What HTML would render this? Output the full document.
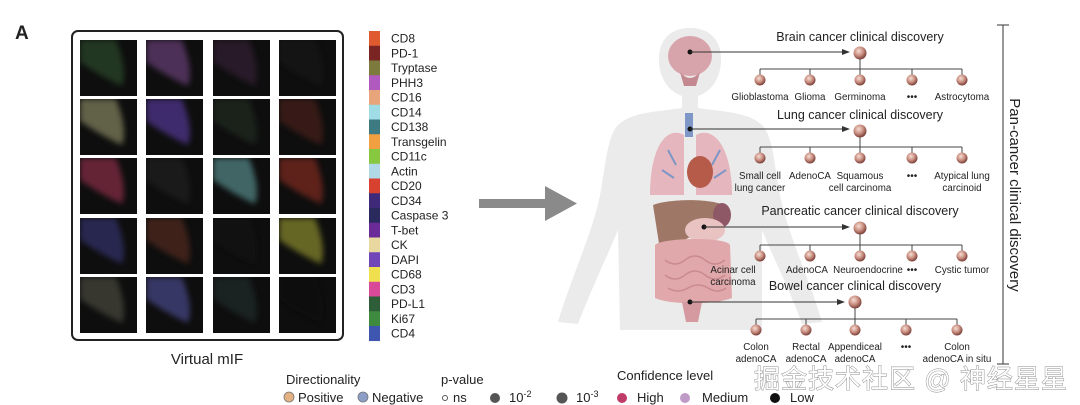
<!DOCTYPE html>
<html><head><meta charset="utf-8"><style>
html,body{margin:0;padding:0;background:#fff;width:1080px;height:405px;overflow:hidden}
svg text{font-family:"Liberation Sans","Noto Sans CJK SC",sans-serif;fill:#222}
</style></head><body>
<svg width="1080" height="405" viewBox="0 0 1080 405" xmlns="http://www.w3.org/2000/svg">
<defs>
<radialGradient id="ng" cx="0.4" cy="0.35" r="0.65"><stop offset="0" stop-color="#f6ddd4"/><stop offset="0.55" stop-color="#c98e80"/><stop offset="1" stop-color="#7a3f38"/></radialGradient>
<filter id="bl"><feGaussianBlur stdDeviation="3"/></filter>
</defs>
<text x="15" y="39" font-size="19" font-weight="bold">A</text>
<rect x="72" y="31" width="271" height="309" rx="6" fill="#fff" stroke="#222" stroke-width="2"/>
<g id="tiles"></g>
<text x="207" y="364" font-size="15" text-anchor="middle">Virtual mIF</text>
<g id="legend"></g>
<g>
<rect x="479" y="199" width="70" height="9" fill="#8a8a8a"/>
<polygon points="545,186 577,203.5 545,221" fill="#8a8a8a"/>
</g>
<g id="body">
<path d="M690,28 C666,28 658,45 659,62 C660,80 670,92 682,96 L682,108 C655,112 632,112 618,125 C608,135 606,160 601,190 C594,230 572,275 558,322 L578,324 C593,285 610,250 618,230 L620,330 L762,330 L762,230 C772,255 790,290 802,324 L822,322 C808,275 786,230 779,190 C774,160 772,135 762,125 C748,112 725,112 698,108 L698,96 C710,92 720,80 721,62 C722,45 714,28 690,28Z" fill="#ebebeb"/>
<ellipse cx="690" cy="56" rx="22" ry="20" fill="#d8a4ab"/>
<path d="M680,72 Q690,84 700,72 L696,86 L684,86Z" fill="#c48890"/>
<rect x="685" y="113" width="8" height="24" fill="#7e97c6"/>
<path d="M684,135 C665,125 650,150 650,195 L684,195Z" fill="#e5b6bd"/>
<path d="M696,135 C715,125 732,150 732,195 L696,195Z" fill="#e5b6bd"/>
<path d="M668,150 l8,15 M662,170 l12,8 M720,150 l-8,15 M726,170 l-12,8" stroke="#7e97c6" stroke-width="2" fill="none"/>
<ellipse cx="700" cy="172" rx="13" ry="16" fill="#b65a4a"/>
<path d="M653,205 C670,198 720,198 728,208 L722,228 C700,228 690,240 660,250 Z" fill="#9f7766"/>
<ellipse cx="722" cy="215" rx="9" ry="12" fill="#8e5866"/>
<ellipse cx="705" cy="230" rx="20" ry="12" fill="#e9c2c2"/>
<path d="M655,245 C660,238 725,236 730,245 L732,298 C715,305 670,305 655,298Z" fill="#e0a8ab"/>
<path d="M665,260 q10,8 20,0 q10,-8 20,0 q10,8 20,0 M665,275 q10,8 20,0 q10,-8 20,0 q10,8 20,0 M668,288 q10,6 20,0 q10,-6 20,0 q10,6 18,0" stroke="#c98a90" stroke-width="1.5" fill="none"/>
<path d="M682,302 L702,302 L698,322 L686,322Z" fill="#d49a9f"/>
</g>
<g id="tree"></g>
<line x1="1003" y1="25" x2="1003" y2="364" stroke="#555" stroke-width="1.2"/>
<line x1="997" y1="25" x2="1009" y2="25" stroke="#555" stroke-width="1.2"/>
<line x1="997" y1="364" x2="1009" y2="364" stroke="#555" stroke-width="1.2"/>
<text transform="translate(1010,195) rotate(90)" font-size="15" text-anchor="middle">Pan-cancer clinical discovery</text>
<g font-size="13">
<text x="286" y="384">Directionality</text>
<circle cx="289" cy="397" r="5" fill="#e4b182" stroke="#777" stroke-width="0.8"/>
<text x="298" y="402">Positive</text>
<circle cx="363" cy="397" r="5" fill="#8c9dc8" stroke="#777" stroke-width="0.8"/>
<text x="372" y="402">Negative</text>
<text x="441" y="384">p-value</text>
<circle cx="445" cy="398" r="2.5" fill="#fff" stroke="#555"/>
<text x="453" y="402">ns</text>
<circle cx="495" cy="398" r="5" fill="#555"/>
<text x="509" y="402">10<tspan font-size="9" dy="-5">-2</tspan></text>
<circle cx="562" cy="398" r="5.5" fill="#555"/>
<text x="576" y="402">10<tspan font-size="9" dy="-5">-3</tspan></text>
<text x="617" y="380">Confidence level</text>
<circle cx="622" cy="398" r="5" fill="#c03c68"/>
<text x="637" y="402">High</text>
<circle cx="685" cy="398" r="5" fill="#c09ac6"/>
<text x="702" y="402">Medium</text>
<circle cx="775" cy="398" r="5" fill="#111"/>
<text x="790" y="402">Low</text>
</g>
<text x="754" y="388" font-size="26" letter-spacing="1" style="fill:#fff;stroke:#888;stroke-width:0.9;paint-order:stroke">掘金技术社区 @ 神经星星</text>
</svg>
<script>
const NS="http://www.w3.org/2000/svg";
const markers=["CD8","PD-1","Tryptase","PHH3","CD16","CD14","CD138","Transgelin","CD11c","Actin","CD20","CD34","Caspase 3","T-bet","CK","DAPI","CD68","CD3","PD-L1","Ki67","CD4"];
const markerColors=["#e05a2f","#7a2424","#7c7a3c","#b05ac0","#e8a47a","#9fdce6","#3e7a82","#f0a040","#88c840","#b0d8e6","#d84030","#3e2a78","#2a2a5e","#6a2a98","#e8d8a0","#7046b8","#f0e050","#d84a98","#2e5e38","#3e8a3e","#3e56b0"];
const tileColors=[["#3a6a3a","#9a5ab0","#4a2a4a","#1a1a1a"],["#c8c890","#7a50e0","#2a3a2a","#6a2a24"],["#d04068","#2a2a2a","#80d0d0","#c03a2a"],["#4a46a0","#7a3a2a","#141414","#d0d040"],["#6a6a5a","#6a6ad0","#2a3a3a","#101010"]];
function el(t,a,p){const e=document.createElementNS(NS,t);for(const k in a)e.setAttribute(k,a[k]);p.appendChild(e);return e;}
const tiles=document.getElementById('tiles');
const cx=[80,146,213,279], cy=[40,99,158,218,277];
tileColors.forEach((row,r)=>row.forEach((c,k)=>{
  const g=el('g',{},tiles);
  
  
  el('rect',{x:cx[k],y:cy[r],width:57,height:56,fill:'#0e0e0e'},g);
  const cp=el('clipPath',{id:'c'+r+k},g);
  el('rect',{x:cx[k],y:cy[r],width:57,height:56},cp);
  el('path',{d:`M${cx[k]},${cy[r]} L${cx[k]+36},${cy[r]} Q${cx[k]+48},${cy[r]+30} ${cx[k]+42},${cy[r]+46} Q${cx[k]+20},${cy[r]+36} ${cx[k]},${cy[r]+22}Z`,fill:c,opacity:0.45,filter:'url(#bl)','clip-path':`url(#c${r}${k})`},g);
}));
const lg=document.getElementById('legend');
const y0=31, step=14.75;
markers.forEach((m,i)=>{
  const r=el('rect',{x:369,y:y0+i*step,width:11,height:step+0.3,fill:markerColors[i]},lg);
  
  
  const t=el('text',{x:391,y:y0+i*step+11.5,'font-size':12},lg);
  t.textContent=m;
  
  
});
const groups=[
 {title:"Brain cancer clinical discovery",ty:41,root:[860,53],arrow:[690,52],cy:80,xs:[760,810,860,912,962],lx:[760,810,860,912,962],labels:[["Glioblastoma"],["Glioma"],["Germinoma"],["•••"],["Astrocytoma"]],ly:100},
 {title:"Lung cancer clinical discovery",ty:119,root:[860,131],arrow:[690,129],cy:158,xs:[760,810,860,912,962],lx:[760,810,860,912,962],labels:[["Small cell","lung cancer"],["AdenoCA"],["Squamous","cell carcinoma"],["•••"],["Atypical lung","carcinoid"]],ly:179},
 {title:"Pancreatic cancer clinical discovery",ty:215,root:[860,228],arrow:[704,227],cy:256,xs:[760,810,860,912,962],lx:[733,807,868,912,962],labels:[["Acinar cell","carcinoma"],["AdenoCA"],["Neuroendocrine"],["•••"],["Cystic tumor"]],ly:273},
 {title:"Bowel cancer clinical discovery",ty:290,root:[855,302],arrow:[690,302],cy:330,xs:[756,806,855,906,957],lx:[756,806,855,906,957],labels:[["Colon","adenoCA"],["Rectal","adenoCA"],["Appendiceal","adenoCA"],["•••"],["Colon","adenoCA in situ"]],ly:350}
];
const tree=document.getElementById('tree');
groups.forEach(g=>{
  const G=el('g',{},tree);
  
  
  const t=el('text',{x:g.root[0],y:g.ty,'font-size':12.5,'text-anchor':'middle'},G);t.textContent=g.title;
  el('circle',{cx:g.arrow[0],cy:g.arrow[1],r:2.5,fill:'#111'},G);
  el('line',{x1:g.arrow[0],y1:g.arrow[1],x2:g.root[0]-16,y2:g.arrow[1],stroke:'#333','stroke-width':1},G);
  el('polygon',{points:`${g.root[0]-18},${g.arrow[1]-3} ${g.root[0]-10},${g.arrow[1]} ${g.root[0]-18},${g.arrow[1]+3}`,fill:'#333'},G);
  const by=g.cy-11;
  el('line',{x1:g.root[0],y1:g.root[1],x2:g.root[0],y2:by,stroke:'#444'},G);
  el('line',{x1:g.xs[0],y1:by,x2:g.xs[4],y2:by,stroke:'#444'},G);
  const n=el('circle',{cx:g.root[0],cy:g.root[1],r:6.5,fill:'url(#ng)'},G);
  
  
  g.xs.forEach((x,i)=>{
    el('line',{x1:x,y1:by,x2:x,y2:g.cy,stroke:'#444'},G);
    const c=el('circle',{cx:x,cy:g.cy,r:5.5,fill:'url(#ng)'},G);
    
    
    g.labels[i].forEach((l,j)=>{
      const tt=el('text',{x:g.lx[i],y:g.ly+j*12,'font-size':l==="•••"?10:9.8,'text-anchor':'middle'},G);
      tt.textContent=l;
    });
  });
});
</script>
</body></html>
